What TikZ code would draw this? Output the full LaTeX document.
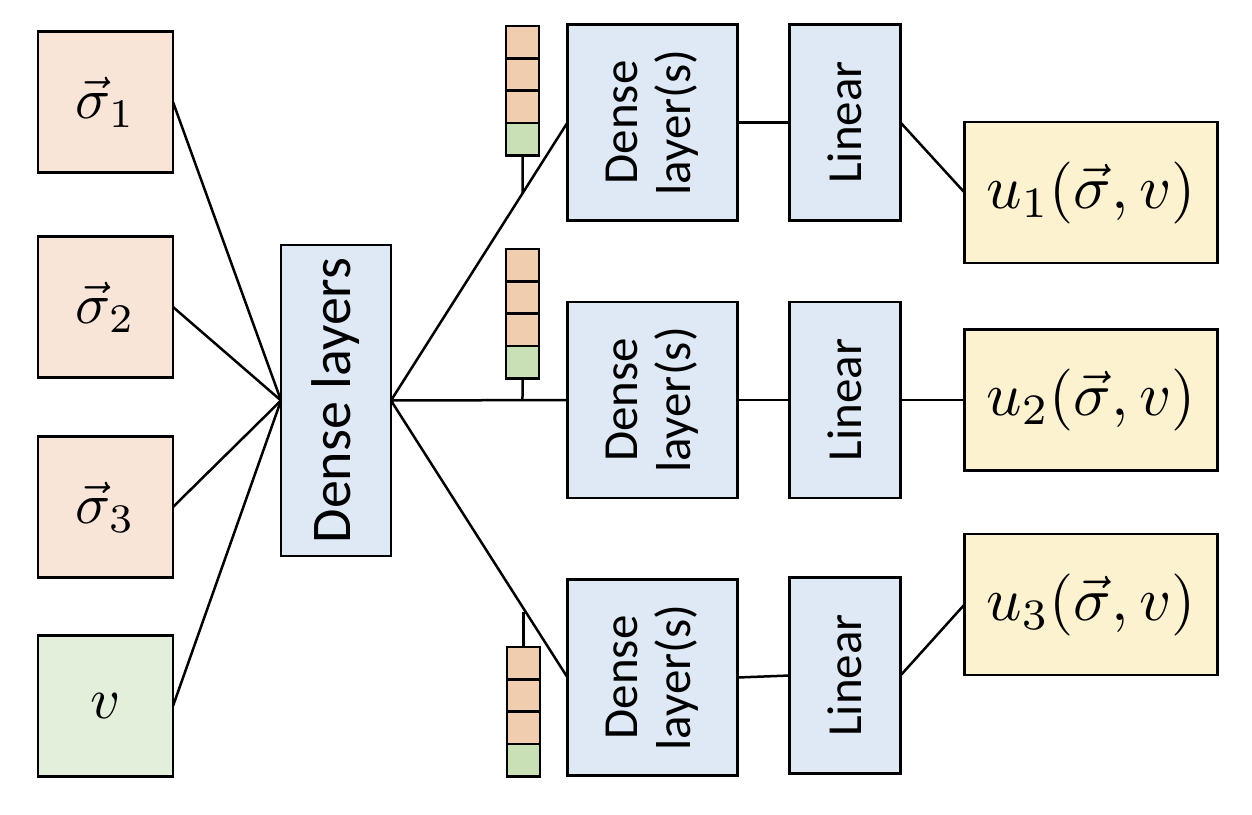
\documentclass[tikz,border=0pt]{standalone}
\usepackage[no-math]{fontspec}
\usepackage{graphicx}
\usetikzlibrary{calc}
\newfontfamily\calibri{Carlito}
\definecolor{sigfill}{RGB}{248,229,215}
\definecolor{vfill}{RGB}{227,239,218}
\definecolor{bluefill}{RGB}{222,233,245}
\definecolor{yelfill}{RGB}{253,242,208}
\definecolor{cellpeach}{RGB}{241,205,176}
\definecolor{cellgreen}{RGB}{201,223,182}
\newcommand{\inmath}[1]{\scalebox{5.8}{$#1$}}
\newcommand{\outmath}[1]{\scalebox{6.2}{$#1$}}
\tikzset{
  box/.style={draw=black, line width=2.8pt, inner sep=0pt, outer sep=0pt},
  inbox/.style={box, minimum width=135pt, minimum height=141pt, fill=sigfill},
  vbox/.style={inbox, fill=vfill},
  dbox/.style={box, fill=bluefill, minimum width=170pt, minimum height=196pt},
  linbox/.style={box, fill=bluefill, minimum width=111pt, minimum height=196pt},
  outbox/.style={box, fill=yelfill, minimum width=253pt, minimum height=141pt},
  rtext/.style={rotate=90, align=center, font=\calibri\fontsize{49}{53}\selectfont},
  cell/.style={draw=black, line width=2.6pt, fill=cellpeach, minimum width=33pt, minimum height=32.3pt, inner sep=0pt, outer sep=0pt},
  gcell/.style={cell, fill=cellgreen},
  conn/.style={line width=2.5pt, black},
}
\begin{document}
\begin{tikzpicture}[x=1pt,y=-1pt]
\useasboundingbox (0,0) rectangle (1252,814);
% inputs
\node[inbox] (s1) at (105.5,102) {\inmath{\vec{\sigma}_1}};
\node[inbox] (s2) at (105.5,307) {\inmath{\vec{\sigma}_2}};
\node[inbox] (s3) at (105.5,507) {\inmath{\vec{\sigma}_3}};
\node[vbox]  (v)  at (105.5,706) {\inmath{v}};
% shared dense
\node[box, fill=bluefill, minimum width=110pt, minimum height=311pt] (dl) at (336,400.5) {};
\node[rotate=90, font=\calibri\fontsize{56}{60}\selectfont] (dlt) at (dl.center) {Dense layers};
% branch dense
\node[dbox] (d1) at (652.5,122.5) {};
\node[dbox] (d2) at (652.5,400) {};
\node[dbox] (d3) at (652.5,677.5) {};
\node[rtext] (d1t) at (d1.center) {Dense\\layer(s)};
\node[rtext] (d2t) at (d2.center) {Dense\\layer(s)};
\node[rtext] (d3t) at (d3.center) {Dense\\layer(s)};
% linear
\node[linbox] (l1) at (845,122.5) {};
\node[linbox] (l2) at (845,400) {};
\node[linbox] (l3) at (845,675.5) {};
\node[rtext] (l1t) at (l1.center) {Linear};
\node[rtext] (l2t) at (l2.center) {Linear};
\node[rtext] (l3t) at (l3.center) {Linear};
% outputs
\node[outbox] (u1) at (1091,192.5) {\outmath{u_1(\vec{\sigma},v)}};
\node[outbox] (u2) at (1091,400) {\outmath{u_2(\vec{\sigma},v)}};
\node[outbox] (u3) at (1091,604.5) {\outmath{u_3(\vec{\sigma},v)}};
% stacks
\node[cell]  (a1) at (522.5,42.2) {};
\node[cell]  (a2) at (522.5,74.5) {};
\node[cell]  (a3) at (522.5,106.8) {};
\node[gcell] (a4) at (522.5,139.1) {};
\node[cell]  (b1) at (522.5,265.2) {};
\node[cell]  (b2) at (522.5,297.5) {};
\node[cell]  (b3) at (522.5,329.8) {};
\node[gcell] (b4) at (522.5,362.1) {};
\node[cell]  (c1) at (523.5,663.2) {};
\node[cell]  (c2) at (523.5,695.5) {};
\node[cell]  (c3) at (523.5,727.8) {};
\node[gcell] (c4) at (523.5,760.1) {};
% connectors
\draw[conn] (s1.east) -- (dl.west);
\draw[conn] (s2.east) -- (dl.west);
\draw[conn] (s3.east) -- (dl.west);
\draw[conn] (v.east) -- (dl.west);
\draw[conn] (dl.east) -- (d1.west);
\draw[conn] (dl.east) -- (d2.west);
\draw[conn] (dl.east) -- (d3.west);
\draw[conn] (d1.east) -- (l1.west);
\draw[conn] (d2.east) -- (l2.west);
\draw[conn] (d3.east) -- (l3.west);
\draw[conn] (l1.east) -- (u1.west);
\draw[conn] (l2.east) -- (u2.west);
\draw[conn] (l3.east) -- (u3.west);
\coordinate (ja) at (intersection of dl.east--d1.west and a4.south--a1.north);
\coordinate (jb) at (intersection of dl.east--d2.west and b4.south--b1.north);
\coordinate (jc2) at ($(c1.north)+(0,-35)$);
\draw[conn] (a4.south) -- (ja);
\draw[conn] (b4.south) -- (jb);
\draw[conn] (c1.north) -- (jc2);
\end{tikzpicture}
\end{document}
